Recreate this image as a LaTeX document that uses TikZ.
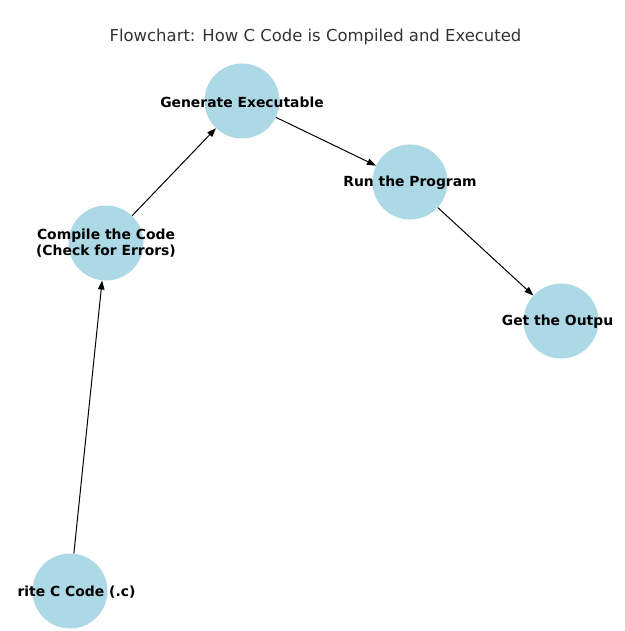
\documentclass[tikz,border=0pt]{standalone}
\usepackage{fontspec}
\setmainfont{DejaVu Sans}
\usetikzlibrary{arrows.meta}
\begin{document}
\begin{tikzpicture}[x=1pt,y=-1pt,
  stage/.style={circle,fill={rgb,255:red,173;green,216;blue,230},draw=none,minimum size=75pt,inner sep=0pt},
  lbl/.style={font=\fontsize{13.9}{16}\selectfont\bfseries,text=black,align=center,inner sep=0pt},
  flow/.style={-{Triangle[length=9pt,width=6.5pt]},line width=1pt,black}]
\useasboundingbox (0,0) rectangle (624,631);
\node[font=\fontsize{16.45}{20}\selectfont,text={rgb,255:red,51;green,51;blue,51},inner sep=0pt] (title) at (315.5,36.5) {Flowchart: How C Code is Compiled and Executed};
\node[stage] (w) at (70,591) {};
\node[stage] (c) at (106,243) {};
\node[stage] (g) at (242,101) {};
\node[stage] (r) at (410,182) {};
\node[stage] (o) at (561,321) {};
\node[lbl] (wl) at (76.5,592) {rite C Code (.c)};
\node[lbl] (cl) at (106,243.5) {Compile the Code\\(Check for Errors)};
\node[lbl] (gl) at (242,102) {Generate Executable};
\node[lbl] (rl) at (410,183) {Run the Program};
\node[lbl] (ol) at (557.5,322) {Get the Outpu};
\draw[flow] (w) -- (c);
\draw[flow] (c) -- (g);
\draw[flow] (g) -- (r);
\draw[flow] (r) -- (o);
\end{tikzpicture}
\end{document}
